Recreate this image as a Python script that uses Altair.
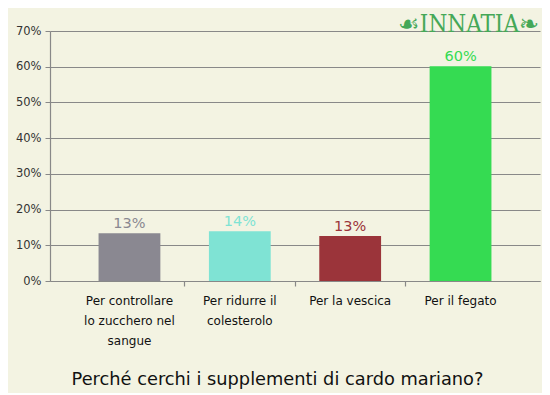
import altair as alt
import pandas as pd

categories = ["Per controllare|lo zucchero nel|sangue", "Per ridurre il|colesterolo", "Per la vescica", "Per il fegato"]
values = [13.4, 13.9, 12.6, 60.1]
colors = ["#8a8891", "#7fe3d4", "#9b343a", "#35db52"]
y_ticks = [0, 10, 20, 30, 40, 50, 60, 70]

df = pd.DataFrame({"cat": categories, "val": values, "col": colors})
df["lab"] = [f"{round(v)}%" for v in values]

xscale = alt.Scale(domain=categories, paddingInner=0.44, paddingOuter=0.44)
yscale = alt.Scale(domain=[0, 70])
cscale = alt.Scale(domain=categories, range=colors)

yaxis = alt.Axis(
    values=y_ticks, labelOverlap=False, labelExpr="datum.value + '%'", title=None,
    grid=True, gridColor="#888888", gridWidth=1.2, domainColor="#888888", domainWidth=1.2,
    tickColor="#888888", tickSize=5, labelFontSize=11.5, labelColor="#333333",
    labelFont="DejaVu Sans", labelPadding=4)

base = alt.Chart(df)

bars = base.mark_bar().encode(
    x=alt.X("cat:N", sort=None, scale=xscale, axis=alt.Axis(
        orient="bottom", ticks=False, domain=True, domainColor="#888888", domainWidth=1.2,
        labelAngle=0, labelExpr="split(datum.label, '|')", labelFontSize=12,
        labelColor="#111111", labelFont="DejaVu Sans", labelLineHeight=20, labelPadding=14,
        labelBaseline="top",
        title="Perché cerchi i supplementi di cardo mariano?", titleFont="DejaVu Sans",
        titleFontSize=17.8, titleFontWeight="normal", titleColor="#111111",
        titleX=227, titleY=98, titleBaseline="middle", titleAnchor="middle", titleAlign="center")),
    y=alt.Y("val:Q", scale=yscale, axis=yaxis),
    color=alt.Color("cat:N", scale=cscale, legend=None),
)

labels = base.mark_text(dy=-9, fontSize=14.5, font="DejaVu Sans").encode(
    x=alt.X("cat:N", sort=None, scale=xscale, axis=alt.Axis(
        orient="bottom", values=categories[:3], bandPosition=1.393, labels=False,
        domain=False, ticks=True, tickSize=5, tickColor="#888888", tickWidth=1.2, title=None, grid=False)),
    y=alt.Y("val:Q", scale=yscale, axis=yaxis),
    text="lab:N",
    color=alt.Color("cat:N", scale=cscale, legend=None),
)

chart = alt.layer(bars, labels).resolve_axis(x="independent").properties(
    width=490, height=250,
    autosize=alt.AutoSizeParams(type="none"),
    padding={"left": 42, "top": 23, "right": 2, "bottom": 112},
    background="#f3f3e2",
    title=alt.TitleParams("☙INNATIA❧", anchor="end", orient="top", font="DejaVu Serif Condensed",
                          fontSize=24, fontWeight="normal", color="#45a857", offset=-12, dx=-1),
).configure_view(stroke=None)

chart.save("out.html", embed_options={"renderer": "svg", "actions": False})
